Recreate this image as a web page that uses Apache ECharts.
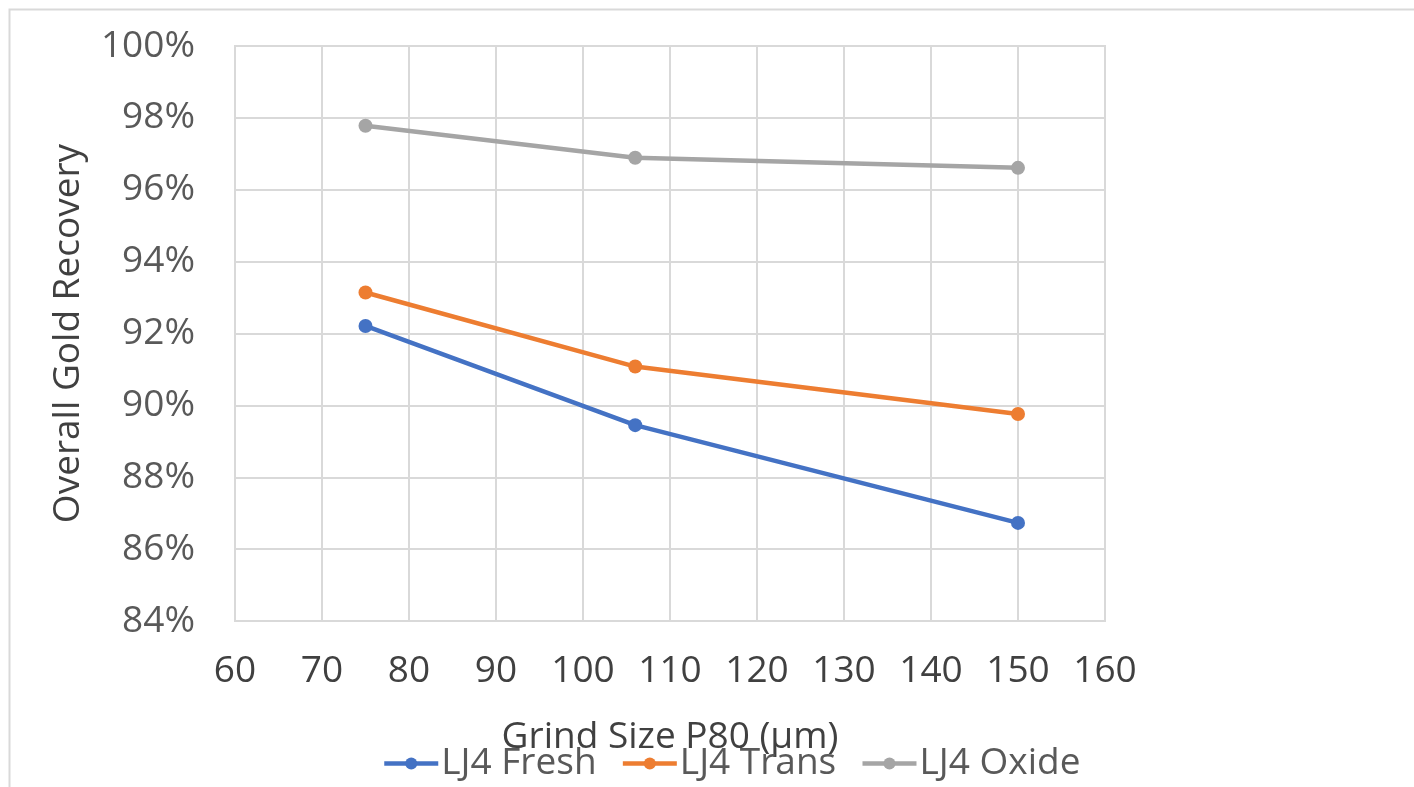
<!DOCTYPE html>
<html>
<head>
<meta charset="utf-8">
<script src="https://cdn.jsdelivr.net/npm/echarts@6/dist/echarts.min.js"></script>
<style>
html,body{margin:0;padding:0;background:#fff;}
#main{width:1414px;height:787px;}
</style>
</head>
<body>
<div id="main"></div>
<script>
const grindSizes = [75, 106, 150];
const fresh = [92.21, 89.45, 86.73];
const trans = [93.14, 91.08, 89.76];
const oxide = [97.78, 96.89, 96.61];
const seriesNames = ['LJ4 Fresh', 'LJ4 Trans', 'LJ4 Oxide'];
const seriesColors = ['#4472C4', '#ED7D31', '#A5A5A5'];

const font = '"Open Sans", "Noto Sans", sans-serif';
const chart = echarts.init(document.getElementById('main'));
const toPairs = arr => grindSizes.map((x, i) => [x, arr[i]]);
const mk = (name, data, color) => ({
  name, type: 'line', data: toPairs(data), smooth: false,
  symbol: 'circle', symbolSize: 14,
  lineStyle: { color, width: 4.5 },
  itemStyle: { color },
  emphasis: { disabled: true }
});
chart.setOption({
  animation: false,
  graphic: [{
    type: 'rect', left: 7, top: 7,
    shape: { width: 1430, height: 800 },
    style: { fill: 'none', stroke: '#d9d9d9', lineWidth: 2 }
  }],
  grid: { left: 235, right: 309, top: 46, bottom: 166, show: true, borderColor: '#d9d9d9', borderWidth: 2 },
  legend: {
    left: 377, top: 740,
    itemWidth: 54, itemHeight: 15, itemGap: 24,
    lineStyle: { width: 4.5 },
    textStyle: { fontFamily: font, fontSize: 37, color: '#595959', padding: [0, 0, 0, -2] },
    data: seriesNames
  },
  xAxis: {
    type: 'value', min: 60, max: 160, interval: 10,
    name: 'Grind Size P80 (\u00b5m)', nameLocation: 'middle', nameGap: 98,
    nameTextStyle: { fontFamily: font, fontSize: 37, color: '#404040' },
    axisLine: { show: true, lineStyle: { color: '#d9d9d9', width: 2 } },
    axisTick: { show: false },
    splitLine: { show: true, lineStyle: { color: '#d9d9d9', width: 2 } },
    axisLabel: { fontFamily: font, fontSize: 37, color: '#404040', margin: 32 }
  },
  yAxis: {
    type: 'value', min: 84, max: 100, interval: 2,
    name: 'Overall Gold Recovery', nameLocation: 'middle', nameGap: 148, nameRotate: 90,
    nameTextStyle: { fontFamily: font, fontSize: 37, color: '#404040' },
    axisLine: { show: true, lineStyle: { color: '#d9d9d9', width: 2 } },
    axisTick: { show: false },
    splitLine: { show: true, lineStyle: { color: '#d9d9d9', width: 2 } },
    axisLabel: { fontFamily: font, fontSize: 37, color: '#595959', margin: 40, formatter: '{value}%' }
  },
  series: [
    mk(seriesNames[0], fresh, seriesColors[0]),
    mk(seriesNames[1], trans, seriesColors[1]),
    mk(seriesNames[2], oxide, seriesColors[2])
  ]
});
</script>
</body>
</html>
